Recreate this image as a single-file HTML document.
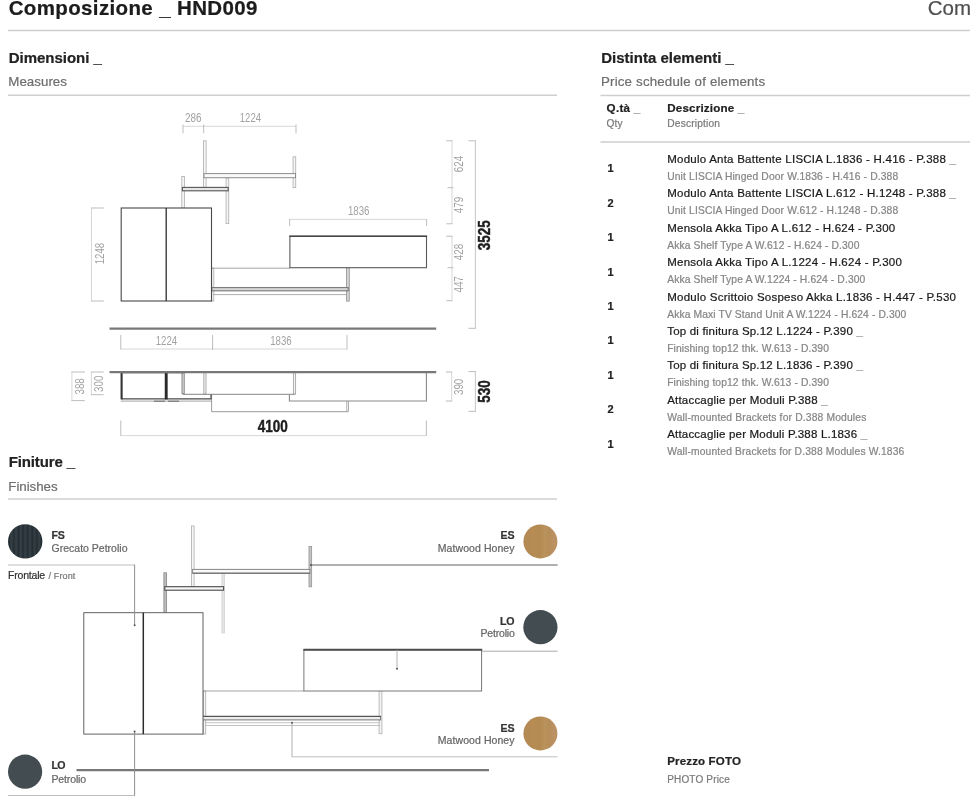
<!DOCTYPE html>
<html><head><meta charset="utf-8"><title>Composizione HND009</title>
<style>
html,body{margin:0;padding:0;background:#fff;}
body{width:970px;height:798px;position:relative;overflow:hidden;filter:blur(0.45px);font-family:"Liberation Sans",sans-serif;color:#222;}
.page{position:absolute;left:0;top:0;width:970px;height:798px;will-change:transform;}
.t{position:absolute;white-space:nowrap;line-height:1;-webkit-text-stroke:0.22px currentColor;}
.b{font-weight:bold;}
.u{color:#a8a8a8;font-weight:normal;}
.hl{position:absolute;background:#d2d2d2;}
svg{position:absolute;left:0;top:0;overflow:visible;}
svg text{font-family:"Liberation Sans",sans-serif;}
</style></head><body>
<div class="page">
<svg width="970" height="798" viewBox="0 0 970 798">
<defs>
  <pattern id="grec" width="4.6" height="10" patternUnits="userSpaceOnUse" x="1.5">
    <rect width="4.6" height="10" fill="#2b353b"/>
    <rect x="0" width="1.6" height="10" fill="#343f46"/>
    <rect x="2.6" width="1.2" height="10" fill="#252e33"/>
  </pattern>
  <linearGradient id="wood" x1="0" x2="1" y1="0" y2="0">
    <stop offset="0" stop-color="#b28954"/>
    <stop offset="0.25" stop-color="#b68b54"/>
    <stop offset="0.5" stop-color="#b58b54"/>
    <stop offset="0.62" stop-color="#ba925c"/>
    <stop offset="0.76" stop-color="#b58d58"/>
    <stop offset="0.9" stop-color="#bd9265"/>
    <stop offset="1" stop-color="#b78e60"/>
  </linearGradient>
</defs>

<!-- section rules -->
<g stroke="#cecece" stroke-width="1.5" fill="none">
  <path d="M8 30.5H970"/>
  <path d="M8 95.3H557"/>
  <path d="M600.5 95.5H970"/>
  <path d="M600.5 142H970"/>
  <path d="M8 499H557"/>
</g>
<!-- ============ ELEVATION (Dimensioni) ============ -->
<g fill="none" stroke-linecap="butt">
  <!-- posts (light) -->
  <g stroke="#b4b4b4" stroke-width="0.9" fill="#f6f6f6">
    <rect x="203.5" y="140.8" width="2.6" height="47.5"/>
    <rect x="181.8" y="176.5" width="2.6" height="31.5"/>
    <rect x="226.1" y="178" width="2.6" height="45.6"/>
    <rect x="293.1" y="156.8" width="2.6" height="30.8"/>
    <rect x="211.6" y="268" width="2.2" height="33"/>
  </g>
  <rect x="346.5" y="267.7" width="2.8" height="33.4" stroke="#9a9a9a" stroke-width="0.9" fill="#d4d4d4"/>
  <!-- upper shelf -->
  <rect x="204" y="173.6" width="91.5" height="4.1" stroke="#8d8d8d" stroke-width="1" fill="#fafafa"/>
  <!-- lower small shelf -->
  <rect x="182.4" y="187.4" width="45.8" height="3.4" stroke="#555" stroke-width="1.1" fill="#e6e6e6"/>
  <!-- thin line between cabinet and tv unit -->
  <path d="M211.5 268.2H290" stroke="#9c9c9c" stroke-width="0.9"/>
  <!-- desk shelf -->
  <rect x="211.8" y="287.6" width="136.4" height="3.2" stroke="#777" stroke-width="1.1" fill="#d9d9d9"/>
  <path d="M213 294.6H347" stroke="#a4a4a4" stroke-width="0.9"/>
  <!-- cabinet -->
  <rect x="121.2" y="208" width="90.3" height="93" stroke="#484848" stroke-width="1.1" fill="#fff"/>
  <path d="M166.2 208V301" stroke="#2c2c2c" stroke-width="1.3"/>
  <!-- tv unit -->
  <rect x="289.9" y="236.3" width="136.6" height="31.4" stroke="#5a5a5a" stroke-width="1.1" fill="#fff"/>
  <path d="M289.3 236.2H427.1" stroke="#444" stroke-width="1.6"/>
  <!-- floor -->
  <path d="M109.5 328.6H436.2" stroke="#787878" stroke-width="2.1"/>
</g>
<!-- dimension lines -->
<g fill="none" stroke="#d2d2d2" stroke-width="0.9">
  <path d="M183 126.3H296"/>
  <path d="M289.7 219.4H426.6"/>
  <path d="M91.5 208V301"/>
  <path d="M452 140.8V223.8M452 236.2V300.7"/>
  <path d="M120.8 349H347"/>
  <path d="M71.9 372V400.6M91.4 372V394.7M451.7 372V401"/>
  <path d="M120.8 435.6H426.4"/>
</g>
<g fill="none" stroke="#c0c0c0" stroke-width="0.9">
  <path d="M475.4 140.8V328.3M475.4 371.6V411.4"/>
</g>
<g fill="none" stroke="#b6b6b6" stroke-width="0.9">
  <path d="M183 124.5V133.3M203.7 124.5V133.3M296 124.5V133.3"/>
  <path d="M289.7 226V219M426.6 226V219"/>
  <path d="M103.8 208H91M103.8 301H91"/>
  <path d="M446.3 140.8H452.5M446.3 223.8H452.5M447.5 187.7H453.6"/>
  <path d="M446.3 236.2H452.5M446.3 300.7H452.5M447.5 267.7H453.6"/>
  <path d="M468.5 140.8H475.9M468.5 328.3H475.9"/>
  <path d="M120.8 335V349.5M347 335V349.5M212.6 335V350"/>
  <path d="M84.8 372H71.4M84.8 400.6H71.4"/>
  <path d="M103.7 372H90.9M103.7 394.7H90.9"/>
  <path d="M445.8 372H452.2M445.8 401H452.2"/>
  <path d="M468.5 371.6H475.9M468.5 411.4H475.9"/>
  <path d="M120.8 420.5V436M426.4 420.5V436"/>
</g>
<!-- dimension labels -->
<g fill="#a2a2a2" font-size="12.6" text-anchor="middle">
  <text x="193.3" y="122.4" textLength="16.6" lengthAdjust="spacingAndGlyphs">286</text>
  <text x="250.4" y="122.4" textLength="21.2" lengthAdjust="spacingAndGlyphs">1224</text>
  <text x="358.7" y="215.2" textLength="21.6" lengthAdjust="spacingAndGlyphs">1836</text>
  <text x="166.4" y="345" textLength="21.4" lengthAdjust="spacingAndGlyphs">1224</text>
  <text x="280.9" y="345" textLength="21.4" lengthAdjust="spacingAndGlyphs">1836</text>
  <text transform="translate(103.5 253.6) rotate(-90)" textLength="21.5" lengthAdjust="spacingAndGlyphs">1248</text>
  <text transform="translate(463.3 164) rotate(-90)" textLength="16.4" lengthAdjust="spacingAndGlyphs">624</text>
  <text transform="translate(463.3 205) rotate(-90)" textLength="16.4" lengthAdjust="spacingAndGlyphs">479</text>
  <text transform="translate(463.3 252) rotate(-90)" textLength="16.4" lengthAdjust="spacingAndGlyphs">428</text>
  <text transform="translate(463.3 284.4) rotate(-90)" textLength="16.4" lengthAdjust="spacingAndGlyphs">447</text>
  <text transform="translate(84 386.4) rotate(-90)" textLength="16.4" lengthAdjust="spacingAndGlyphs">388</text>
  <text transform="translate(103.3 383.8) rotate(-90)" textLength="16.4" lengthAdjust="spacingAndGlyphs">300</text>
  <text transform="translate(463.3 386.9) rotate(-90)" textLength="16.4" lengthAdjust="spacingAndGlyphs">390</text>
</g>
<g fill="#1e1e1e" stroke="#1e1e1e" stroke-width="0.45" font-size="17" font-weight="bold" text-anchor="middle">
  <text transform="translate(490.2 235.3) rotate(-90)" textLength="29.8" lengthAdjust="spacingAndGlyphs">3525</text>
  <text transform="translate(490.2 391.6) rotate(-90)" textLength="22.4" lengthAdjust="spacingAndGlyphs">530</text>
  <text x="272.8" y="432.4" font-size="16.4" textLength="30.1" lengthAdjust="spacingAndGlyphs">4100</text>
</g>

<!-- ============ PLAN VIEW ============ -->
<g fill="none">
  <g stroke="#a6a6a6" stroke-width="0.9" fill="#f1f1f1">
    <rect x="203.8" y="372.5" width="2.2" height="21.3"/>
    <rect x="293.4" y="372.5" width="2.2" height="21.6"/>
  </g>
  <rect x="182" y="372.5" width="2.2" height="21.3" stroke="#7a7a7a" stroke-width="0.9" fill="#ddd"/>
  <!-- shelf depth line -->
  <path d="M183 394.3H294.6" stroke="#858585" stroke-width="1"/>
  <!-- desk -->
  <path d="M211.6 394.3V411.7H348.3V401.2" stroke="#9c9c9c" stroke-width="1"/>
  <path d="M346.6 401.2V411.7" stroke="#aaa" stroke-width="0.8"/>
  <!-- tv unit -->
  <path d="M289.4 394.3V401H426.4V372.5" stroke="#8a8a8a" stroke-width="1.1"/>
  <!-- cabinet -->
  <path d="M121.4 398.8H211V394.3" stroke="#4a4a4a" stroke-width="1.2"/>
  <path d="M120.8 401.1H211" stroke="#9a9a9a" stroke-width="0.9"/>
  <path d="M154 401.2H165M168 401.2H179" stroke="#666" stroke-width="1"/>
  <path d="M121.6 371.5V399.4" stroke="#333" stroke-width="2.1"/>
  <path d="M166.2 371.5V399.4" stroke="#2a2a2a" stroke-width="2.9"/>
  <path d="M121 372.4H184" stroke="#444" stroke-width="1.6"/>
  <!-- wall -->
  <path d="M109.5 372.1H436.2" stroke="#787878" stroke-width="2.1"/>
</g>

<!-- ============ FINISHES ELEVATION ============ -->
<g fill="none">
  <g stroke="#b4b4b4" stroke-width="0.9" fill="#f6f6f6">
    <rect x="191.5" y="526" width="2.6" height="60.5"/>
    <rect x="379.1" y="690.7" width="2.8" height="43"/>
    <rect x="203.3" y="691" width="2.4" height="43"/>
  </g>
  <rect x="163.9" y="572.8" width="2.6" height="39.8" stroke="#8e8e8e" stroke-width="0.9" fill="#bdbdbd"/>
  <rect x="221.9" y="573" width="2.7" height="60" stroke="#d2d2d2" stroke-width="0.8" fill="#e4e4e4"/>
  <rect x="309" y="546.5" width="2.6" height="40.3" stroke="#9c9c9c" stroke-width="0.9" fill="#c4c4c4"/>
  <rect x="192.6" y="569.4" width="117.3" height="3.8" stroke="#858585" stroke-width="1" fill="#fafafa"/>
  <path d="M192.6 573.2H310" stroke="#666" stroke-width="1"/>
  <rect x="164.8" y="586.7" width="58.8" height="3.5" stroke="#4a4a4a" stroke-width="1.1" fill="#f6f6f6"/>
  <path d="M203 691H304" stroke="#9c9c9c" stroke-width="0.9"/>
  <rect x="202.6" y="716.5" width="178" height="3.4" stroke="#777" stroke-width="1" fill="#ececec"/>
  <path d="M202.2 716.4H380.8" stroke="#555" stroke-width="1.3"/>
  <path d="M205 722.7H380M205 725.5H380" stroke="#a8a8a8" stroke-width="0.7"/>
  <!-- cabinet -->
  <rect x="83.8" y="612.7" width="119.2" height="121.4" stroke="#5a5a5a" stroke-width="0.95" fill="#fff"/>
  <path d="M143.3 612.7V734.1" stroke="#2c2c2c" stroke-width="1.5"/>
  <!-- tv unit -->
  <rect x="303.9" y="649.8" width="177.7" height="41.2" stroke="#707070" stroke-width="0.95" fill="#fff"/>
  <path d="M303.4 649.7H482.2" stroke="#4c4c4c" stroke-width="1.9"/>
  <!-- floor -->
  <path d="M76.5 770.1H489" stroke="#787878" stroke-width="2.1"/>
  <!-- leaders -->
  <g stroke="#8f8f8f" stroke-width="1">
    <path d="M8 565H134.6" stroke="#bdbdbd"/><path d="M134.6 564.5V625"/>
    <path d="M8 795.5H134.6" stroke="#bdbdbd"/><path d="M134.6 795.8V732"/>
    <path d="M311 565H557.6" stroke="#969696" stroke-width="1.4"/>
    <path d="M482 651.2H557.6" stroke="#aaa"/>
    <path d="M397 650V668.5" stroke="#b0b0b0"/>
    <path d="M292 723V756.8" stroke="#a8a8a8" stroke-width="0.9"/><path d="M291.6 756.8H557.6" stroke="#bebebe" stroke-width="1"/>
  </g>
  <g fill="#555" stroke="none">
    <circle cx="134.6" cy="625.3" r="1"/><circle cx="134.6" cy="731.6" r="1"/>
    <circle cx="311" cy="565" r="1.1"/><circle cx="397" cy="668.8" r="1"/>
    <circle cx="292" cy="722.7" r="1"/>
  </g>
</g>
<!-- swatches -->
<circle cx="25.2" cy="541.4" r="17.2" fill="url(#grec)"/>
<circle cx="25.1" cy="771.7" r="17.1" fill="#434d51"/>
<circle cx="540.4" cy="541.4" r="17" fill="url(#wood)"/>
<circle cx="540.4" cy="627.2" r="17.1" fill="#434d51"/>
<circle cx="540.4" cy="733.4" r="17" fill="url(#wood)"/>
</svg>
<div class="t b" style="top:-2.01px;font-size:20.5px;color:#1c1c1c;left:8.70px;letter-spacing:0.362px;">Composizione _ HND009</div>
<div class="t" style="top:-1.71px;font-size:20.5px;color:#505050;left:927.70px;">Com</div>
<div class="t b" style="top:50.01px;font-size:15px;color:#222;left:8.70px;letter-spacing:-0.013px;">Dimensioni _</div>
<div class="t" style="top:74.70px;font-size:13.3px;color:#6e6e6e;left:8.30px;letter-spacing:0.039px;">Measures</div>
<div class="t b" style="top:49.70px;font-size:15px;color:#222;left:601.20px;letter-spacing:0.013px;">Distinta elementi _</div>
<div class="t" style="top:74.81px;font-size:13.3px;color:#6e6e6e;left:601.00px;letter-spacing:0.179px;">Price schedule of elements</div>
<div class="t b" style="top:453.51px;font-size:15px;color:#222;left:8.70px;letter-spacing:-0.122px;">Finiture _</div>
<div class="t" style="top:479.81px;font-size:13.3px;color:#6e6e6e;left:8.30px;letter-spacing:-0.039px;">Finishes</div>
<div class="t b" style="top:101.61px;font-size:11.6px;color:#222;left:606.60px;letter-spacing:0.294px;">Q.tà<span class="u"> _</span></div>
<div class="t" style="top:119.31px;font-size:10.2px;color:#7a7a7a;left:606.60px;letter-spacing:0.014px;">Qty</div>
<div class="t b" style="top:101.61px;font-size:11.6px;color:#222;left:667.30px;letter-spacing:0.180px;">Descrizione<span class="u"> _</span></div>
<div class="t" style="top:119.31px;font-size:10.2px;color:#7a7a7a;left:667.30px;letter-spacing:0.176px;">Description</div>
<div class="t" style="top:154.00px;font-size:11.5px;color:#1a1a1a;left:667.20px;letter-spacing:0.238px;">Modulo Anta Battente LISCIA L.1836 - H.416 - P.388<span class="u"> _</span></div>
<div class="t" style="top:171.91px;font-size:10.3px;color:#868686;left:667.20px;letter-spacing:0.134px;">Unit LISCIA Hinged Door W.1836 - H.416 - D.388</div>
<div class="t b" style="top:163.41px;font-size:11px;color:#222;left:607.50px;">1</div>
<div class="t" style="top:188.41px;font-size:11.5px;color:#1a1a1a;left:667.20px;letter-spacing:0.238px;">Modulo Anta Battente LISCIA L.612 - H.1248 - P.388<span class="u"> _</span></div>
<div class="t" style="top:206.30px;font-size:10.3px;color:#868686;left:667.20px;letter-spacing:0.134px;">Unit LISCIA Hinged Door W.612 - H.1248 - D.388</div>
<div class="t b" style="top:197.80px;font-size:11px;color:#222;left:607.50px;">2</div>
<div class="t" style="top:222.80px;font-size:11.5px;color:#1a1a1a;left:667.20px;letter-spacing:0.256px;">Mensola Akka Tipo A L.612 - H.624 - P.300</div>
<div class="t" style="top:240.71px;font-size:10.3px;color:#868686;left:667.20px;letter-spacing:0.107px;">Akka Shelf Type A W.612 - H.624 - D.300</div>
<div class="t b" style="top:232.21px;font-size:11px;color:#222;left:607.50px;">1</div>
<div class="t" style="top:257.20px;font-size:11.5px;color:#1a1a1a;left:667.20px;letter-spacing:0.257px;">Mensola Akka Tipo A L.1224 - H.624 - P.300</div>
<div class="t" style="top:275.11px;font-size:10.3px;color:#868686;left:667.20px;letter-spacing:0.109px;">Akka Shelf Type A W.1224 - H.624 - D.300</div>
<div class="t b" style="top:266.61px;font-size:11px;color:#222;left:607.50px;">1</div>
<div class="t" style="top:291.61px;font-size:11.5px;color:#1a1a1a;left:667.20px;letter-spacing:0.238px;">Modulo Scrittoio Sospeso Akka L.1836 - H.447 - P.530</div>
<div class="t" style="top:309.52px;font-size:10.3px;color:#868686;left:667.20px;letter-spacing:0.112px;">Akka Maxi TV Stand Unit A W.1224 - H.624 - D.300</div>
<div class="t b" style="top:301.00px;font-size:11px;color:#222;left:607.50px;">1</div>
<div class="t" style="top:326.00px;font-size:11.5px;color:#1a1a1a;left:667.20px;letter-spacing:0.195px;">Top di finitura Sp.12 L.1224 - P.390<span class="u"> _</span></div>
<div class="t" style="top:343.91px;font-size:10.3px;color:#868686;left:667.20px;letter-spacing:0.112px;">Finishing top12 thk. W.613 - D.390</div>
<div class="t b" style="top:335.41px;font-size:11px;color:#222;left:607.50px;">1</div>
<div class="t" style="top:360.41px;font-size:11.5px;color:#1a1a1a;left:667.20px;letter-spacing:0.195px;">Top di finitura Sp.12 L.1836 - P.390<span class="u"> _</span></div>
<div class="t" style="top:378.30px;font-size:10.3px;color:#868686;left:667.20px;letter-spacing:0.112px;">Finishing top12 thk. W.613 - D.390</div>
<div class="t b" style="top:369.80px;font-size:11px;color:#222;left:607.50px;">1</div>
<div class="t" style="top:394.80px;font-size:11.5px;color:#1a1a1a;left:667.20px;letter-spacing:0.203px;">Attaccaglie per Moduli P.388<span class="u"> _</span></div>
<div class="t" style="top:412.71px;font-size:10.3px;color:#868686;left:667.20px;letter-spacing:0.160px;">Wall-mounted Brackets for D.388 Modules</div>
<div class="t b" style="top:404.21px;font-size:11px;color:#222;left:607.50px;">2</div>
<div class="t" style="top:429.20px;font-size:11.5px;color:#1a1a1a;left:667.20px;letter-spacing:0.195px;">Attaccaglie per Moduli P.388 L.1836<span class="u"> _</span></div>
<div class="t" style="top:447.11px;font-size:10.3px;color:#868686;left:667.20px;letter-spacing:0.140px;">Wall-mounted Brackets for D.388 Modules W.1836</div>
<div class="t b" style="top:438.61px;font-size:11px;color:#222;left:607.50px;">1</div>
<div class="t b" style="top:755.61px;font-size:11.5px;color:#222;left:667.20px;letter-spacing:0.164px;">Prezzo FOTO</div>
<div class="t" style="top:775.02px;font-size:10px;color:#7a7a7a;left:667.20px;letter-spacing:0.169px;">PHOTO Price</div>
<div class="t b" style="top:530.21px;font-size:10.6px;color:#333;left:51.50px;letter-spacing:-0.273px;">FS</div>
<div class="t" style="top:542.61px;font-size:10.5px;color:#666;left:51.50px;letter-spacing:0.008px;">Grecato Petrolio</div>
<div class="t" style="top:570.21px;font-size:10.5px;color:#333;left:8.00px;letter-spacing:-0.191px;">Frontale</div>
<div class="t" style="top:572.20px;font-size:9px;color:#777;left:48.50px;letter-spacing:0.141px;">/ Front</div>
<div class="t b" style="top:759.80px;font-size:10.6px;color:#333;left:51.50px;letter-spacing:-0.609px;">LO</div>
<div class="t" style="top:773.61px;font-size:10.5px;color:#666;left:51.50px;letter-spacing:-0.139px;">Petrolio</div>
<div class="t b" style="top:530.41px;font-size:10.6px;color:#333;right:455.40px;">ES</div>
<div class="t" style="top:542.50px;font-size:10.5px;color:#666;left:437.80px;letter-spacing:0.071px;">Matwood Honey</div>
<div class="t b" style="top:616.01px;font-size:10.6px;color:#333;right:455.40px;">LO</div>
<div class="t" style="top:628.41px;font-size:10.5px;color:#666;left:480.50px;letter-spacing:-0.189px;">Petrolio</div>
<div class="t b" style="top:722.51px;font-size:10.6px;color:#333;right:455.40px;">ES</div>
<div class="t" style="top:734.71px;font-size:10.5px;color:#666;left:437.80px;letter-spacing:0.071px;">Matwood Honey</div>
</div>
</body></html>
